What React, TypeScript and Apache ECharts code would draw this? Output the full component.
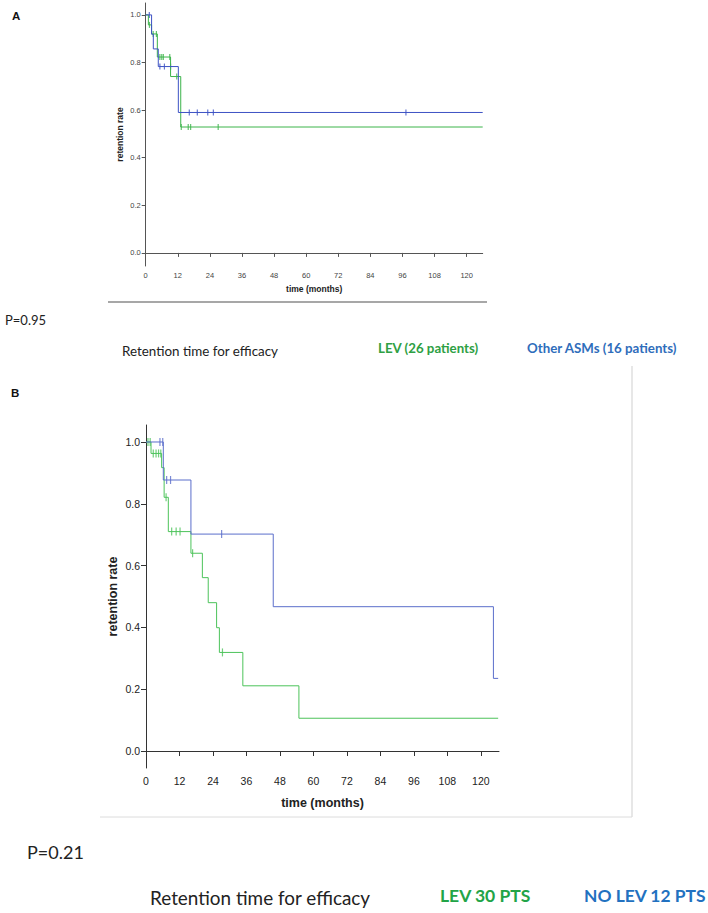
import React, { useEffect, useRef } from "react";
import * as echarts from "echarts";

const monthTicks = [0, 12, 24, 36, 48, 60, 72, 84, 96, 108, 120];
const rateTicks = [0, 0.2, 0.4, 0.6, 0.8, 1.0];

// Panel A — LEV (26 patients): Kaplan–Meier steps
const aLevMonths = [0, 1.0, 2.2, 4.35, 9.3, 13.1, 126];
const aLevRates = [1.0, 0.958, 0.92, 0.823, 0.741, 0.529, 0.529];
const aLevCensorMonths = [1.4, 2.8, 4.0, 5.3, 6.0, 6.6, 9.0, 11.6, 13.3, 15.9, 16.8, 27.1];
const aLevCensorRates = [0.958, 0.92, 0.92, 0.823, 0.823, 0.823, 0.823, 0.741, 0.529, 0.529, 0.529, 0.529];

// Panel A — Other ASMs (16 patients)
const aOtherMonths = [0, 2.2, 2.85, 4.7, 12.2, 126];
const aOtherRates = [1.0, 0.919, 0.857, 0.783, 0.59, 0.59];
const aOtherCensorMonths = [1.35, 5.3, 7.0, 9.3, 16.3, 19.3, 23.2, 25.3, 97.3];
const aOtherCensorRates = [1.0, 0.783, 0.783, 0.783, 0.59, 0.59, 0.59, 0.59, 0.59];

// Panel B — LEV 30 PTS
const bLevMonths = [0, 1.8, 5.6, 6.5, 8.0, 16.1, 20.2, 22.3, 25.3, 26.3, 34.7, 54.8, 126.2];
const bLevRates = [1.0, 0.963, 0.917, 0.821, 0.71, 0.64, 0.561, 0.48, 0.399, 0.319, 0.211, 0.106, 0.106];
const bLevCensorMonths = [0.7, 1.5, 2.6, 3.6, 4.5, 5.3, 7.2, 9.2, 10.8, 12.2, 16.7, 27.4];
const bLevCensorRates = [1.0, 1.0, 0.963, 0.963, 0.963, 0.963, 0.821, 0.71, 0.71, 0.71, 0.64, 0.319];

// Panel B — NO LEV 12 PTS
const bNoLevMonths = [0, 6.2, 16.1, 45.6, 124.5, 126.2];
const bNoLevRates = [1.0, 0.877, 0.702, 0.467, 0.235, 0.235];
const bNoLevCensorMonths = [5.0, 6.0, 7.4, 8.8, 27.1];
const bNoLevCensorRates = [1.0, 1.0, 0.877, 0.877, 0.702];

const pair = (xs: number[], ys: number[]) => xs.map((x, i) => [x, ys[i]]);

const A_GREEN = "#3cb44b";
const A_BLUE = "#3d52c4";
const B_GREEN = "#4cc35a";
const B_BLUE = "#5b6ecb";

const TEXT_FONT = "Lato, 'Open Sans', sans-serif";
const AXIS_FONT = "'Liberation Sans', Arial, sans-serif";

export default function App() {
  const ref = useRef<HTMLDivElement>(null);

  useEffect(() => {
    if (!ref.current) return;
    const chart = echarts.init(ref.current, null, { renderer: "svg" });

    const xAxisBase = (small: boolean, max: number, gridIndex: number) => ({
      type: "value",
      gridIndex,
      min: 0,
      max,
      name: "time (months)",
      nameLocation: "middle",
      nameGap: small ? 18 : 28,
      nameTextStyle: {
        fontFamily: AXIS_FONT,
        fontWeight: "bold",
        fontSize: small ? 8.5 : 12.5,
        color: "#222",
      },
      axisLine: { lineStyle: { color: small ? "#555" : "#333", width: 1 } },
      axisTick: {
        customValues: monthTicks,
        length: small ? 4 : 5,
        lineStyle: { color: small ? "#555" : "#333" },
      },
      axisLabel: {
        customValues: monthTicks,
        fontFamily: AXIS_FONT,
        fontSize: small ? 7.5 : 10.5,
        color: small ? "#444" : "#222",
        margin: small ? 5 : 7,
      },
      splitLine: { show: false },
    });

    const yAxisBase = (small: boolean, min: number, max: number, gridIndex: number) => ({
      type: "value",
      gridIndex,
      min,
      max,
      name: "retention rate",
      nameLocation: "middle",
      nameGap: small ? 21 : 27,
      nameTextStyle: {
        fontFamily: AXIS_FONT,
        fontWeight: "bold",
        fontSize: small ? 8.5 : 12.5,
        color: "#222",
      },
      axisLine: { show: true, lineStyle: { color: small ? "#555" : "#333", width: 1 } },
      axisTick: {
        show: true,
        customValues: rateTicks,
        length: small ? 4 : 5,
        lineStyle: { color: small ? "#555" : "#333" },
      },
      axisLabel: {
        customValues: rateTicks,
        formatter: (v: number) => v.toFixed(1),
        fontFamily: AXIS_FONT,
        fontSize: small ? 7.5 : 10.5,
        color: small ? "#444" : "#222",
        margin: small ? 5 : 6,
      },
      splitLine: { show: false },
    });

    const stepSeries = (name: string, data: number[][], color: string, idx: number) => ({
      name,
      type: "line",
      step: "end",
      xAxisIndex: idx,
      yAxisIndex: idx,
      data,
      showSymbol: false,
      symbol: "none",
      lineStyle: { color, width: 1 },
      silent: true,
    });

    const censorSeries = (name: string, data: number[][], color: string, idx: number, h: number) => ({
      name,
      type: "scatter",
      xAxisIndex: idx,
      yAxisIndex: idx,
      data,
      symbol: "rect",
      symbolSize: [1.2, h],
      itemStyle: { color },
      silent: true,
    });

    const text = (
      x: number,
      y: number,
      t: string,
      size: number,
      color: string,
      bold: boolean,
      font: string = TEXT_FONT
    ) => ({
      type: "text",
      x,
      y,
      silent: true,
      style: {
        text: t,
        fontSize: size,
        fontFamily: font,
        fontWeight: bold ? "bold" : "normal",
        fill: color,
        verticalAlign: "middle",
        textVerticalAlign: "middle",
      },
    });

    chart.setOption({
      animation: false,
      backgroundColor: "#ffffff",
      grid: [
        { left: 145.7, top: 3, width: 337, height: 263, containLabel: false },
        { left: 146, top: 425, width: 353, height: 343, containLabel: false },
      ],
      xAxis: [xAxisBase(true, 126, 0), xAxisBase(false, 126.5, 1)],
      yAxis: [yAxisBase(true, -0.055, 1.05, 0), yAxisBase(false, -0.055, 1.055, 1)],
      series: [
        stepSeries("LEV (26 patients)", pair(aLevMonths, aLevRates), A_GREEN, 0),
        stepSeries("Other ASMs (16 patients)", pair(aOtherMonths, aOtherRates), A_BLUE, 0),
        censorSeries("LEV censored", pair(aLevCensorMonths, aLevCensorRates), A_GREEN, 0, 6),
        censorSeries("Other censored", pair(aOtherCensorMonths, aOtherCensorRates), A_BLUE, 0, 6),
        stepSeries("LEV 30 PTS", pair(bLevMonths, bLevRates), B_GREEN, 1),
        stepSeries("NO LEV 12 PTS", pair(bNoLevMonths, bNoLevRates), B_BLUE, 1),
        censorSeries("LEV 30 censored", pair(bLevCensorMonths, bLevCensorRates), B_GREEN, 1, 8),
        censorSeries("NO LEV censored", pair(bNoLevCensorMonths, bNoLevCensorRates), B_BLUE, 1, 8),
      ],
      graphic: [
        text(12, 15.5, "A", 11.5, "#111", true, AXIS_FONT),
        {
          type: "line",
          silent: true,
          shape: { x1: 108, y1: 302, x2: 487, y2: 302 },
          style: { stroke: "#8a8a8a", lineWidth: 1.5 },
        },
        text(5, 320, "P=0.95", 13, "#222", false),
        text(122, 351, "Retention time for efficacy", 13.4, "#222", false),
        text(378, 348, "LEV (26 patients)", 13.3, "#2ea043", true),
        text(527, 348, "Other ASMs (16 patients)", 13.3, "#2f6dbb", true),

        text(11, 393, "B", 11.5, "#111", true, AXIS_FONT),
        {
          type: "line",
          silent: true,
          shape: { x1: 632, y1: 366, x2: 632, y2: 817 },
          style: { stroke: "#cfcfcf", lineWidth: 1 },
        },
        {
          type: "line",
          silent: true,
          shape: { x1: 100, y1: 817, x2: 632, y2: 817 },
          style: { stroke: "#dcdcdc", lineWidth: 1 },
        },
        text(27, 852, "P=0.21", 18, "#222", false),
        text(150, 897, "Retention time for efficacy", 18.9, "#222", false),
        text(440, 895, "LEV 30 PTS", 17.5, "#22a447", true),
        text(584, 895, "NO LEV 12 PTS", 17.4, "#2271c0", true),
      ],
    });

    return () => {
      chart.dispose();
    };
  }, []);

  return (
    <div
      ref={ref}
      style={{ position: "absolute", left: 0, top: 0, width: 708, height: 913, background: "#fff" }}
    />
  );
}
